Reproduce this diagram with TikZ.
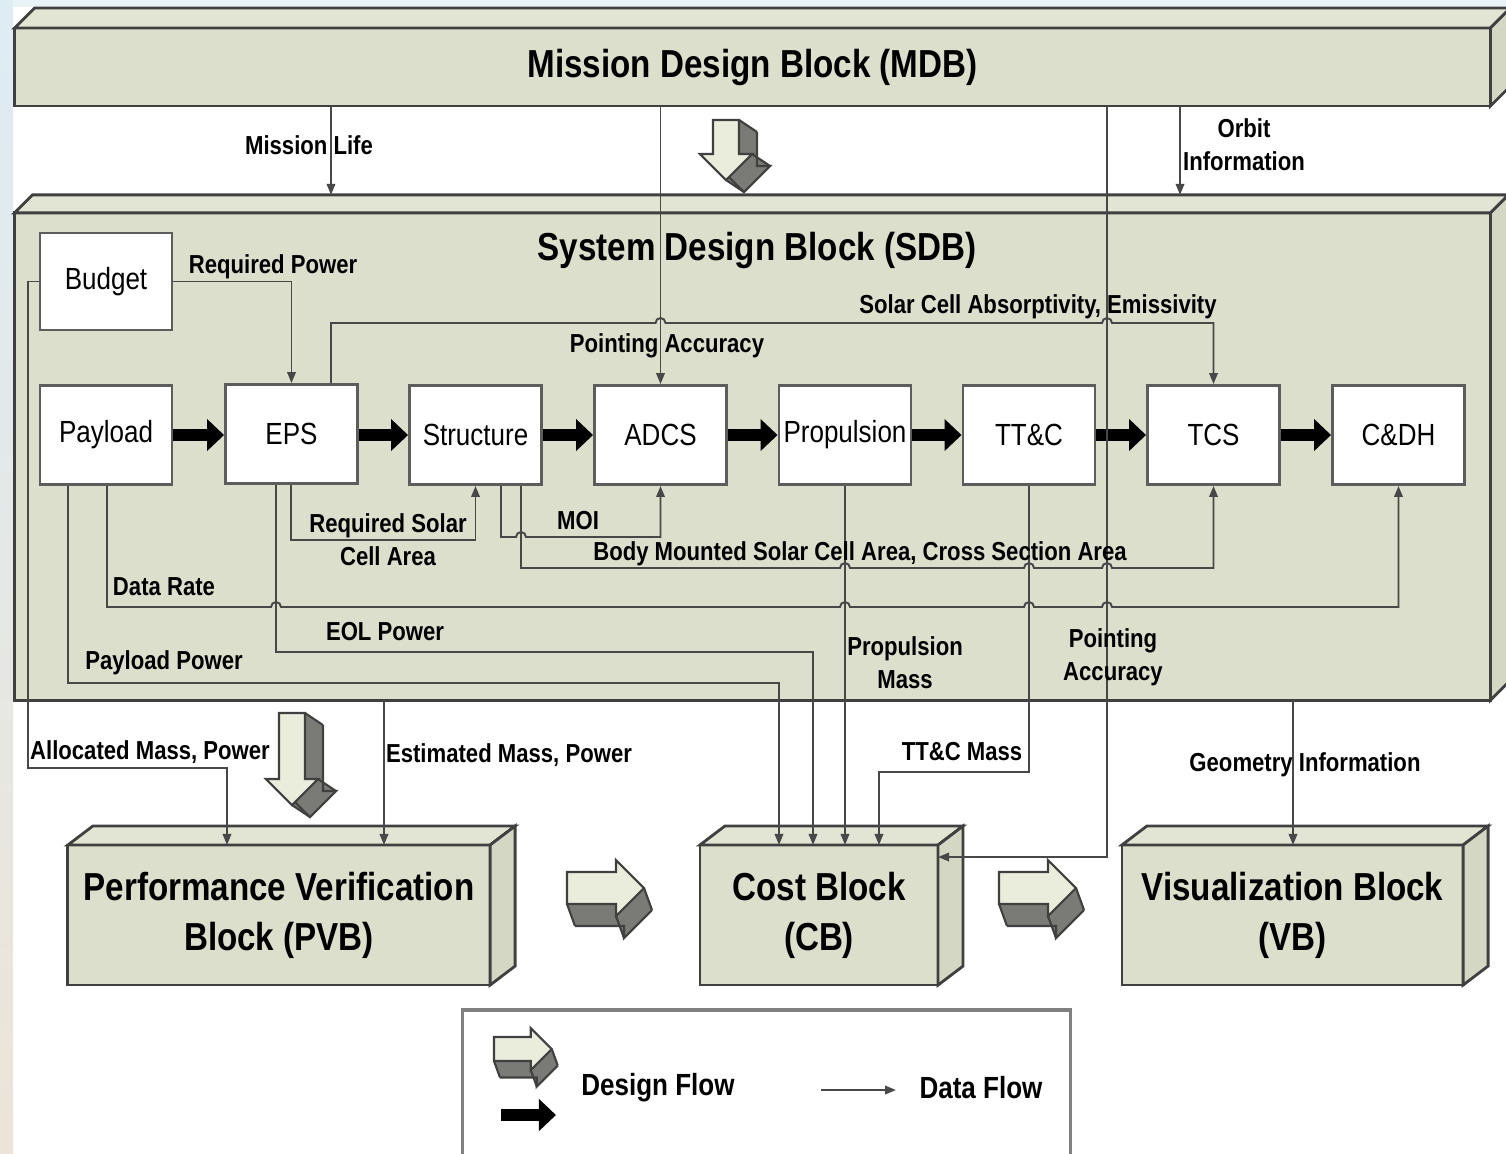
\documentclass[tikz,border=0pt]{standalone}
\usepackage{fontspec}
\setmainfont[FakeStretch=0.85]{Liberation Sans}
\usetikzlibrary{arrows.meta}

\definecolor{blockfill}{RGB}{220,223,204}
\definecolor{blocktop}{RGB}{226,229,212}
\definecolor{blockside}{RGB}{212,215,196}
\definecolor{edgegray}{RGB}{64,64,64}
\definecolor{linegray}{RGB}{72,72,72}
\definecolor{flowlight}{RGB}{234,236,220}
\definecolor{flowdark}{RGB}{122,122,118}
\definecolor{slideblue}{RGB}{222,236,244}
\definecolor{slidebeige}{RGB}{236,228,216}

\begin{document}
\begin{tikzpicture}[x=0.01cm, y=-0.01cm,
    headtext/.style={inner sep=0pt, align=center, font=\fontsize{11.1}{14.2}\selectfont\bfseries},
    block/.style={headtext, draw=edgegray, line width=0.8pt, fill=blockfill, outer sep=0pt},
    blockface/.style={draw=edgegray, line width=0.8pt, fill=blocktop},
    unit/.style={draw=edgegray!85, line width=0.8pt, fill=white, minimum width=1.32cm, minimum height=0.99cm, inner sep=0pt, font=\fontsize{8.7}{10}\selectfont},
    lbl/.style={inner sep=1pt, align=center, font=\fontsize{7.4}{9.4}\selectfont\bfseries},
    legendtext/.style={inner sep=1pt, font=\fontsize{8.7}{10}\selectfont\bfseries},
    data/.style={draw=linegray, line width=0.55pt, -{Triangle[length=0.11cm,width=0.085cm]}},
    design/.style={line width=0.12cm, -{Triangle[length=0.17cm,width=0.31cm]}},
    flowedge/.style={draw=edgegray, line width=0.6pt},
    downflow/.pic={
        \foreach \k in {0,...,12}
            \fill[flowdark, shift={(1.5*\k,\k)}] (-13,0) -- (13,0) -- (13,#1) -- (26,#1) -- (0,#1+26) -- (-26,#1) -- (-13,#1) -- cycle;
        \draw[flowedge] (13,0) -- ++(18,12) (26,#1) -- ++(18,12) (0,#1+26) -- ++(18,12);
        \draw[flowedge, shift={(18,12)}] (13,0) -- (13,#1) -- (26,#1) -- (0,#1+26) -- (-26,#1);
        \filldraw[fill=flowlight, flowedge] (-13,0) -- (13,0) -- (13,#1) -- (26,#1) -- (0,#1+26) -- (-26,#1) -- (-13,#1) -- cycle;
    },
    rightflow/.pic={
        \foreach \k in {0,...,16}
            \fill[flowdark, shift={(0.5*\k,1.375*\k)}] (0,-16) -- (#1,-16) -- (#1,-28) -- (#1+28,0) -- (#1,28) -- (#1,16) -- (0,16) -- cycle;
        \draw[flowedge] (0,16) -- ++(8,22) (#1,28) -- ++(8,22) (#1+28,0) -- ++(8,22);
        \draw[flowedge, shift={(8,22)}] (0,16) -- (#1,16) -- (#1,28) -- (#1+28,0);
        \filldraw[fill=flowlight, flowedge] (0,-16) -- (#1,-16) -- (#1,-28) -- (#1+28,0) -- (#1,28) -- (#1,16) -- (0,16) -- cycle;
    }]
    \useasboundingbox (0,0) rectangle (1506,1153);
    \clip (0,0) rectangle (1506,1153);

    % slide background
    \shade[top color=slideblue, bottom color=slidebeige] (0,0) rectangle (13,1153);
    \fill[slideblue!70] (13,0) rectangle (1506,7);

    % --- Mission Design Block ---
    \node[block, minimum width=14.75cm, minimum height=0.78cm] (mdb) at (752.5,67) {Mission Design Block (MDB)};
    \draw[blockface] (mdb.north west) -- ++(20,-20) -- ([shift={(20,-20)}]mdb.north east) -- (mdb.north east) -- cycle;
    \draw[blockface, fill=blockside] (mdb.north east) -- ++(20,-20) -- ([shift={(20,-20)}]mdb.south east) -- (mdb.south east) -- cycle;

    % --- System Design Block ---
    \node[block, minimum width=14.75cm, minimum height=4.87cm] (sdb) at (752.5,456.5) {};
    \draw[blockface] (sdb.north west) -- ++(18,-18) coordinate (sdbback) -- ([shift={(18,-18)}]sdb.north east) -- (sdb.north east) -- cycle;
    \draw[blockface, fill=blockside] (sdb.north east) -- ++(18,-18) -- ([shift={(18,-18)}]sdb.south east) -- (sdb.south east) -- cycle;
    \node[headtext] (sdbtitle) at (757,250) {System Design Block (SDB)};

    % --- lower blocks ---
    \node[block, minimum width=4.22cm, minimum height=1.4cm] (pvb) at (279,915) {Performance Verification\\Block (PVB)};
    \node[block, minimum width=2.38cm, minimum height=1.4cm] (cb) at (819,915) {Cost Block\\(CB)};
    \node[block, minimum width=3.41cm, minimum height=1.4cm] (vb) at (1292.5,915) {Visualization Block\\(VB)};
    \foreach \b in {pvb, cb, vb} {
        \draw[blockface] (\b.north west) -- ++(25,-19) -- ([shift={(25,-19)}]\b.north east) -- (\b.north east) -- cycle;
        \draw[blockface, fill=blockside] (\b.north east) -- ++(25,-19) -- ([shift={(25,-19)}]\b.south east) -- (\b.south east) -- cycle;
    }

    % --- subsystems ---
    \node[unit, minimum height=0.97cm] (budget) at (106,281.5) {Budget};
    \node[unit] (pay) at (106,435) {Payload};
    \node[unit] (eps) at (291.5,434) {EPS};
    \node[unit] (str) at (475.5,435) {Structure};
    \node[unit] (adcs) at (660.5,435) {ADCS};
    \node[unit] (prop) at (845,435) {Propulsion};
    \node[unit] (ttc) at (1029,435) {TT\&C};
    \node[unit] (tcs) at (1213.5,435) {TCS};
    \node[unit] (cdh) at (1398.5,435) {C\&DH};

    \foreach \a/\b in {pay/eps, eps/str, str/adcs, adcs/prop, prop/ttc, ttc/tcs, tcs/cdh}
        \draw[design] (\a.east |- 0,435) -- (\b.west |- 0,435);

    % --- design flow arrows ---
    \pic at (726,120) {downflow=34};
    \pic at (292,713) {downflow=66};
    \pic at (567,888) {rightflow=49};
    \pic at (999,888) {rightflow=49};

    % --- data flow ---
    \draw[data] (331,0 |- mdb.south) -- (331,0 |- sdbback);
    \draw[data] (adcs.north |- mdb.south) -- (adcs.north);
    \draw[data] (1107,0 |- mdb.south) |- (cb.north east |- 0,857);
    \draw[data] (1180,0 |- mdb.south) -- (1180,0 |- sdbback);

    \draw[data] (budget.east) -| (eps.north);
    \draw[data] (budget.west) -| (28,768) -| (227,0 |- pvb.north);
    \draw[data] (331,0 |- eps.north) |- (655.5,323) arc[start angle=180, end angle=0, radius=0.05cm]
        -- (1102,323) arc[start angle=180, end angle=0, radius=0.05cm] -| (tcs.north);
    \draw[data] (107,0 |- pay.south) |- (271,607) arc[start angle=180, end angle=0, radius=0.05cm]
        -- (840,607) arc[start angle=180, end angle=0, radius=0.05cm]
        -- (1024,607) arc[start angle=180, end angle=0, radius=0.05cm]
        -- (1102,607) arc[start angle=180, end angle=0, radius=0.05cm] -| (cdh.south);
    \draw[data] (276,0 |- eps.south) |- (813,652) -- (813,0 |- cb.north);
    \draw[data] (68,0 |- pay.south) |- (779,683) -- (779,0 |- cb.north);
    \draw[data] (291,0 |- eps.south) |- (475.5,540) -- (str.south);
    \draw[data] (501,0 |- str.south) |- (516,537) arc[start angle=180, end angle=0, radius=0.05cm] -| (adcs.south);
    \draw[data] (521,0 |- str.south) |- (840,568) arc[start angle=180, end angle=0, radius=0.05cm]
        -- (1024,568) arc[start angle=180, end angle=0, radius=0.05cm]
        -- (1102,568) arc[start angle=180, end angle=0, radius=0.05cm] -| (tcs.south);
    \draw[data] (prop.south) -- (prop.south |- cb.north);
    \draw[data] (ttc.south) |- (879,772) -- (879,0 |- cb.north);
    \draw[data] (384,0 |- sdb.south) -- (384,0 |- pvb.north);
    \draw[data] (1293,0 |- sdb.south) -- (1293,0 |- vb.north);

    % --- labels ---
    \node[lbl] (lblLife) at (309,145) {Mission Life};
    \node[lbl] (lblOrbit) at (1244,145) {Orbit\\Information};
    \node[lbl] (lblReqPower) at (273,267) {Required Power};
    \node[lbl] (lblAbsorb) at (1038,307) {Solar Cell Absorptivity, Emissivity};
    \node[lbl] (lblPointing) at (667,346) {Pointing Accuracy};
    \node[lbl] (lblSolarArea) at (388,540) {Required Solar\\Cell Area};
    \node[lbl] (lblMOI) at (578,521) {MOI};
    \node[lbl] (lblBody) at (860,554) {Body Mounted Solar Cell Area, Cross Section Area};
    \node[lbl] (lblRate) at (164,587) {Data Rate};
    \node[lbl] (lblEOL) at (385,632) {EOL Power};
    \node[lbl] (lblPayPower) at (164,663) {Payload Power};
    \node[lbl] (lblPropMass) at (905,663) {Propulsion\\Mass};
    \node[lbl] (lblPointing2) at (1113,657) {Pointing\\Accuracy};
    \node[lbl] (lblAlloc) at (150,752) {Allocated Mass, Power};
    \node[lbl] (lblEst) at (509,755) {Estimated Mass, Power};
    \node[lbl] (lblTTCMass) at (962,752) {TT\&C Mass};
    \node[lbl] (lblGeom) at (1305,765) {Geometry Information};

    % --- legend ---
    \node[draw=gray, line width=0.9pt, fill=white, minimum width=6.07cm, minimum height=1.5cm, inner sep=0pt] (legend) at (766.5,1085) {};
    \pic[scale=0.75] at (494,1049) {rightflow=49};
    \coordinate (legtail) at (501,1115);
    \coordinate (leghead) at (556,1115);
    \draw[design] (legtail) -- (leghead);
    \node[legendtext] (lblDesign) at (658,1088) {Design Flow};
    \coordinate (datatail) at (821,1090);
    \coordinate (datahead) at (896,1090);
    \draw[data] (datatail) -- (datahead);
    \node[legendtext] (lblData) at (981,1088) {Data Flow};
\end{tikzpicture}
\end{document}
